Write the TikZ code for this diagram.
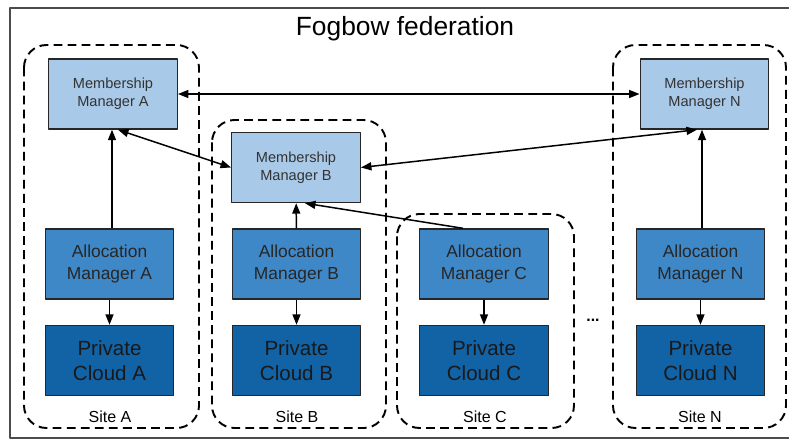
\documentclass[tikz,border=0pt]{standalone}
\usepackage{fontspec}
\setmainfont{Liberation Sans}
\usetikzlibrary{arrows.meta}
\definecolor{mmblue}{HTML}{A9C9E8}
\definecolor{amblue}{HTML}{3F88C8}
\definecolor{pcblue}{HTML}{1262A6}
\begin{document}
\begin{tikzpicture}[x=0.02cm, y=-0.02cm, line join=round, >={Triangle[length=2.1mm,width=1.6mm]},
	box/.style={draw=black!85, line width=0.8pt, minimum width=2.57cm, minimum height=1.4cm, align=center, inner sep=1pt},
	mm/.style={box, fill=mmblue, font=\fontsize{8.3}{10}\selectfont, text=black!80},
	am/.style={box, fill=amblue, font=\fontsize{9.9}{12}\selectfont, text=black!85},
	pc/.style={box, fill=pcblue, font=\fontsize{11.7}{14}\selectfont, text=black!90},
	site/.style={dashed, dash pattern=on 5pt off 3pt, line width=1.1pt, rounded corners=0.45cm},
	link/.style={line width=0.85pt}]
	\useasboundingbox (0,0) rectangle (789,440);
	% cadre de la federation
	\draw[line width=1.1pt, black!70] (789,8)--(10,8)--(10,438)--(789,438);
	\node[font=\fontsize{15}{18}\selectfont] (titre) at (405,29) {Fogbow federation};
	% sites
	\draw[site] (24,45) rectangle (199,428);
	\draw[site] (212,120) rectangle (386,428);
	\draw[site] (397,214) rectangle (574,428);
	\draw[site] (613,45) rectangle (786,428);
	\foreach \x/\s in {110/A,297/B,485/C,700/N}
		\node[font=\fontsize{9.1}{11}\selectfont] (site\s) at (\x,417) {Site \s};
	\node[font=\bfseries\small] (dots) at (593,320) {...};
	% membership managers
	\node[mm] (MMA) at (113,94) {Membership\\Manager A};
	\node[mm] (MMB) at (296,167.5) {Membership\\Manager B};
	\node[mm] (MMN) at (704.5,94) {Membership\\Manager N};
	% allocation managers et clouds
	\foreach \x/\s in {109.5/A,296.5/B,484/C,700.5/N}{
		\node[am] (AM\s) at (\x,264) {Allocation\\Manager \s};
		\node[pc] (PC\s) at (\x,360.5) {Private\\Cloud \s};
		\draw[link,->] (AM\s) -- (PC\s);
	}
	\draw[link,<->] (MMA) -- (MMN);
	\draw[link,<->] ([xshift=0.1cm]MMA.south) -- (MMB.west);
	\draw[link,<->] (MMB.east) -- ([xshift=-0.15cm]MMN.south);
	\draw[link,->] ([xshift=0.05cm]AMA.north) -- ([xshift=0.05cm]AMA.north |- MMA.south);
	\draw[link,->] (AMB) -- (MMB);
	\draw[link,->] ([xshift=-0.42cm]AMC.north) -- ([xshift=0.18cm]MMB.south);
	\draw[link,->] ([xshift=0.03cm]AMN.north) -- ([xshift=0.03cm]AMN.north |- MMN.south);
\end{tikzpicture}
\end{document}
